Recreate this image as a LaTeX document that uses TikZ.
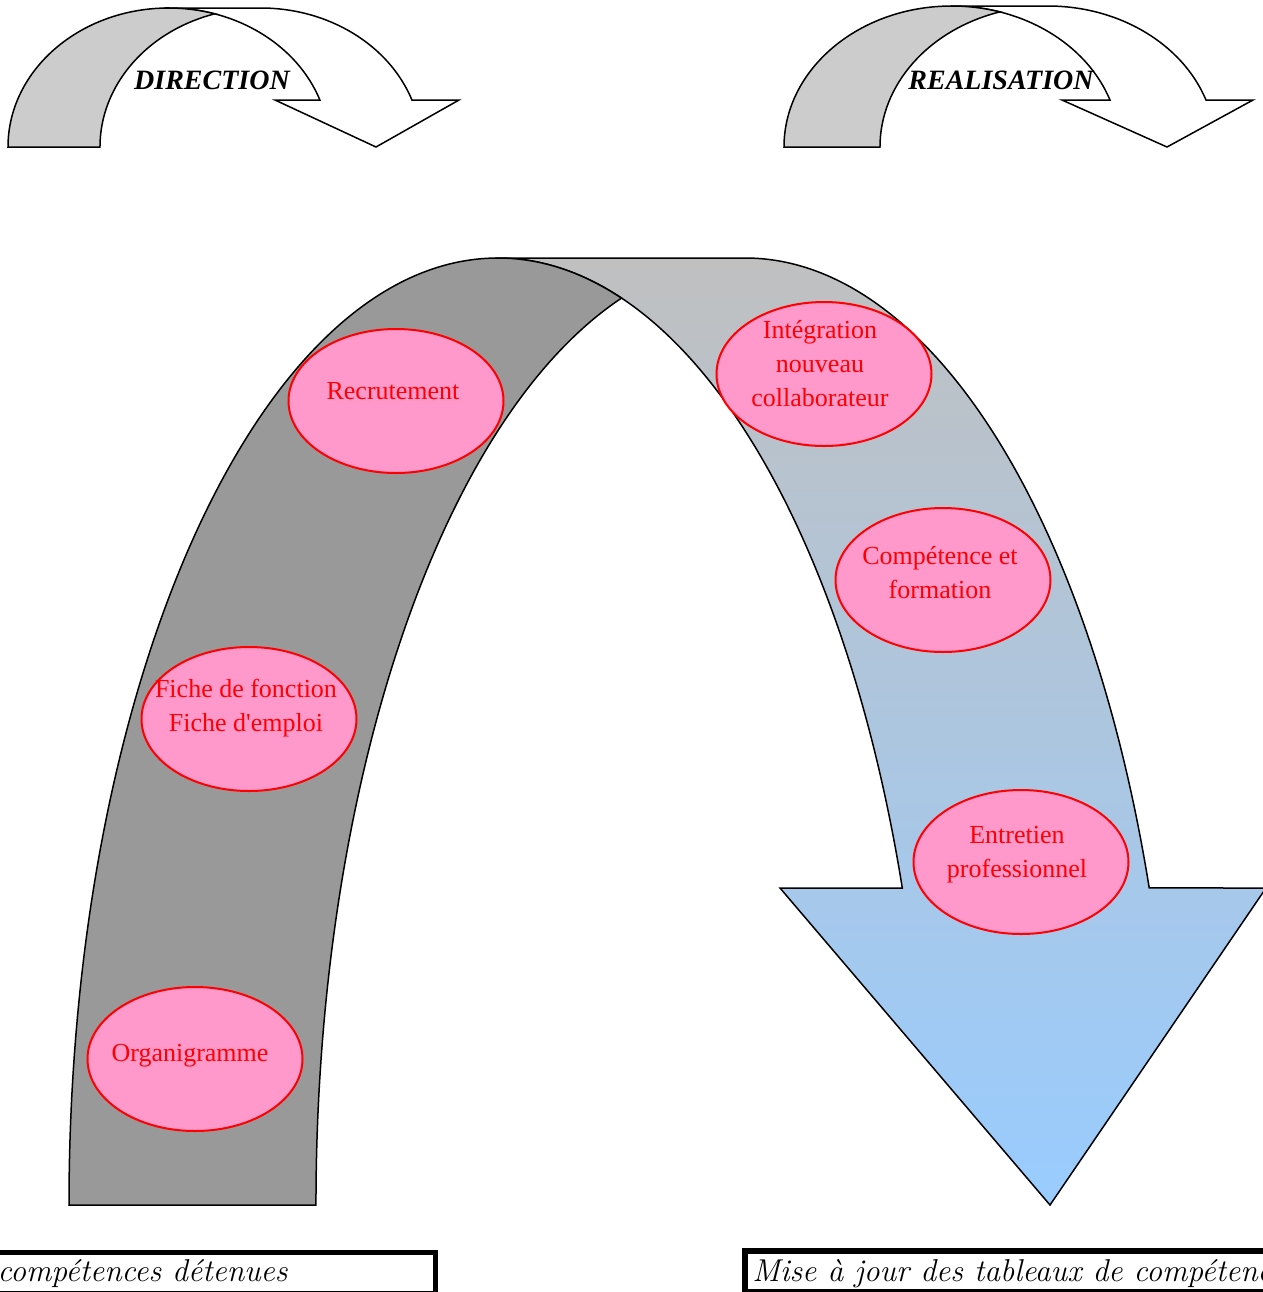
\documentclass[tikz,border=0pt]{standalone}
\usepackage{fontspec}
\usepackage{tikz}
\usetikzlibrary{shapes.geometric, positioning}
\newfontfamily\timesfont{Liberation Serif}
\definecolor{Step_Pink}{HTML}{FF99CC}
\definecolor{Band_Gray}{HTML}{999999}
\definecolor{Band_Light}{HTML}{C0C0C0}
\definecolor{Band_Blue}{HTML}{99CCFF}
\definecolor{Small_Gray}{HTML}{CCCCCC}

\begin{document}
\begin{tikzpicture}[x=0.5pt, y=0.5pt, line join=miter,
  etape/.style={ellipse, draw=red, line width=1pt, fill=Step_Pink, inner sep=0pt,
    minimum width=107.5pt, minimum height=72pt},
  etapetexte/.style={text=red, inner sep=0pt, align=center,
    font=\timesfont\fontsize{13}{17}\selectfont},
  bandline/.style={draw=black, line width=0.75pt},
  titre/.style={font=\timesfont\bfseries\itshape\fontsize{14}{16}\selectfont},
  legende/.style={inner sep=0pt, font=\itshape\fontsize{15.8}{17}\selectfont}]
\useasboundingbox (0,0) rectangle (1263,-1292);
% --- Small arrow: DIRECTION ---
\draw[bandline, fill=white] (168.7,-8) -- (260.7,-8)
  arc[start angle=90, end angle=19.76, x radius=160.7, y radius=139]
  -- (459,-100) -- (376,-147) -- (275,-100) -- (319.9,-100)
  arc[start angle=19.76, end angle=90, x radius=160.7, y radius=139] -- cycle;
\draw[bandline, fill=Small_Gray] (8,-147)
  arc[start angle=180, end angle=90, x radius=160.7, y radius=139]
  arc[start angle=90, end angle=73.37, x radius=160.7, y radius=139]
  arc[start angle=106.63, end angle=180, x radius=160.7, y radius=139] -- cycle;
\node[titre] (direction) at (212,-80) {DIRECTION};
% --- Small arrow: REALISATION ---
\draw[bandline, fill=white] (951.8,-6) -- (1047.8,-6)
  arc[start angle=90, end angle=19.47, x radius=167.8, y radius=141]
  -- (1253,-100) -- (1167,-147) -- (1062,-100) -- (1110,-100)
  arc[start angle=19.47, end angle=90, x radius=167.8, y radius=141] -- cycle;
\draw[bandline, fill=Small_Gray] (784,-147)
  arc[start angle=180, end angle=90, x radius=167.8, y radius=141]
  arc[start angle=90, end angle=73.38, x radius=167.8, y radius=141]
  arc[start angle=106.62, end angle=180, x radius=167.8, y radius=141] -- cycle;
\node[titre] (realisation) at (1001,-80) {REALISATION};
% --- Big curved arrow ---
\draw[bandline, top color=Band_Light, bottom color=Band_Blue] (498,-258) -- (745,-258)
  arc[start angle=90, end angle=19.56, x radius=429, y radius=947]
  -- (1266,-888) -- (1050,-1205) -- (780,-888) -- (902.3,-888)
  arc[start angle=19.56, end angle=90, x radius=429, y radius=947] -- cycle;
\draw[bandline, fill=Band_Gray] (69,-1205)
  arc[start angle=180, end angle=90, x radius=429, y radius=947]
  arc[start angle=90, end angle=73.27, x radius=429, y radius=947]
  arc[start angle=106.73, end angle=180, x radius=429, y radius=947] -- cycle;
% --- Steps ---
\node[etape] (recrutement) at (396,-401) {};
\node[etapetexte] (recrutementtxt) at (393,-391) {Recrutement};
\node[etape] (integration) at (824,-374) {};
\node[etapetexte] (integrationtxt) at (820,-364) {Intégration\\nouveau\\collaborateur};
\node[etape] (competence) at (943,-580) {};
\node[etapetexte] (competencetxt) at (940,-573) {Compétence et\\formation};
\node[etape] (fiche) at (249,-719) {};
\node[etapetexte] (fichetxt) at (246,-708) {Fiche de fonction\\Fiche d'emploi};
\node[etape] (entretien) at (1021,-862) {};
\node[etapetexte] (entretientxt) at (1017,-855) {Entretien\\professionnel};
\node[etape] (organigramme) at (195,-1059) {};
\node[etapetexte] (organigrammetxt) at (190,-1056) {Organigramme};
% --- Bottom boxes ---
\draw[line width=2.5pt] (-20,-1252.5) rectangle (435.5,-1293);
\node[legende, anchor=base east] (detenues) at (288,-1281) {compétences détenues};
\draw[line width=3pt] (745,-1251) rectangle (1290,-1292);
\node[legende, anchor=base west] (tableaux) at (752,-1281) {Mise à jour des tableaux de compétences};
\end{tikzpicture}
\end{document}
